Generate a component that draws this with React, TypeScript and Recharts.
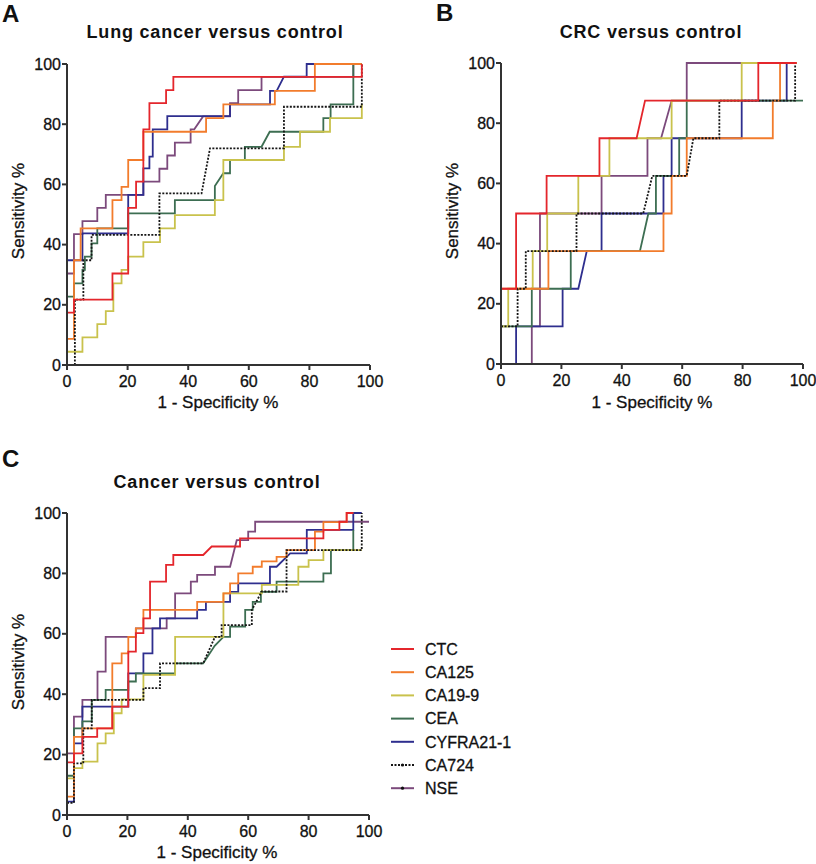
import React from "react";
import { LineChart, Line, XAxis, YAxis } from "recharts";

type Pt = [number, number];

const NAMES = ["CTC", "CA125", "CA19-9", "CEA", "CYFRA21-1", "CA724", "NSE"];
const COLORS = ["#e4262c", "#f27c2c", "#c9c24c", "#3d6e52", "#2e2e8e", "#151515", "#7c4a7c"];
const TICKS = [0, 20, 40, 60, 80, 100];

// A - lung cancer versus control (1 - specificity %, sensitivity %)
const LUNG_CTC: Pt[] = [[0, 17.4], [2.3, 17.4], [2.3, 21.7], [15, 21.7], [15, 30.4], [20.2, 30.4], [20.2, 52.2], [22.8, 52.2], [22.8, 60.9], [25.2, 60.9], [25.2, 78.3], [27.2, 78.3], [27.2, 87], [32.7, 87], [32.7, 91.3], [35.1, 91.3], [35.1, 95.7], [97.3, 95.7], [97.3, 100]];
const LUNG_CA125: Pt[] = [[0, 8.7], [2.3, 8.7], [2.3, 34.8], [4.5, 34.8], [4.5, 45.4], [15, 45.4], [15, 54.8], [18, 54.8], [18, 59.2], [20.2, 59.2], [20.2, 68.1], [25.2, 68.1], [25.2, 77.5], [45.9, 77.5], [45.9, 82], [51.6, 82], [51.6, 86.6], [68.6, 86.6], [68.6, 91.1], [81.8, 91.1], [81.8, 100], [97.3, 100]];
const LUNG_CA199: Pt[] = [[0, 4.4], [5.1, 4.4], [5.1, 9.2], [10, 9.2], [10, 13.6], [12.8, 13.6], [12.8, 17.9], [15.3, 17.9], [15.3, 27.1], [18, 27.1], [18, 31.6], [20.2, 31.6], [20.2, 36], [25.2, 36], [25.2, 40.8], [30.7, 40.8], [30.7, 45.4], [35.6, 45.4], [35.6, 49.8], [48.8, 49.8], [48.8, 54.8], [51.6, 54.8], [51.6, 68.1], [71.6, 68.1], [71.6, 72.5], [76.9, 72.5], [76.9, 77.5], [86.8, 77.5], [86.8, 82], [97.3, 82], [97.3, 86.6]];
const LUNG_CEA: Pt[] = [[0, 22.7], [2.3, 22.7], [2.3, 27.1], [5.1, 27.1], [5.1, 31.6], [5.9, 31.6], [5.9, 36], [8.1, 36], [8.1, 40.4], [10, 40.4], [10, 45.4], [20.2, 45.4], [20.2, 50.4], [35.6, 50.4], [35.6, 54.8], [48.8, 54.8], [48.8, 59.5], [51.6, 63.7], [53.8, 63.7], [53.8, 68.1], [58.7, 68.1], [58.7, 72.5], [64.2, 72.5], [66.9, 77.5], [84.6, 77.5], [84.6, 82], [87, 82], [87, 86.6], [94.5, 86.6], [94.5, 100], [97.3, 100]];
const LUNG_CYFRA: Pt[] = [[0, 34.8], [5.1, 34.8], [5.1, 43.7], [20.2, 43.7], [20.2, 56.5], [25.2, 56.5], [25.2, 65.3], [27.2, 65.3], [27.2, 69.2], [28.3, 69.2], [28.3, 78.3], [33.1, 78.3], [33.1, 82.7], [53.8, 82.7], [53.8, 86.6], [67, 86.6], [67, 91.1], [69.2, 91.1], [71.6, 95.8], [79.1, 95.8], [79.1, 100], [94.5, 100]];
const LUNG_CA724: Pt[] = [[2.6, 0], [2.6, 21.7], [5.4, 21.7], [5.4, 34.8], [8.1, 34.8], [8.1, 43.2], [30.5, 43.2], [30.5, 57], [44.4, 57], [47.2, 72], [71.6, 72], [71.6, 85.8], [97.3, 85.8], [97.3, 100]];
const LUNG_NSE: Pt[] = [[0, 30.4], [2.3, 30.4], [2.3, 43.5], [5.1, 43.5], [5.1, 47.8], [10, 47.8], [10, 52.2], [12.8, 52.2], [12.8, 56.5], [25.2, 56.5], [25.2, 60.9], [30.5, 60.9], [30.5, 65.2], [33.1, 65.2], [33.1, 69.6], [35.6, 69.6], [35.6, 73.9], [40.8, 73.9], [40.8, 78.3], [42, 78.3], [44.9, 82.6], [53.8, 82.6], [53.8, 87], [56.5, 87], [56.5, 91.3], [64.2, 91.3], [64.2, 95.7], [94.5, 95.7], [94.5, 100], [97.3, 100]];

// B - CRC versus control
const CRC_CTC: Pt[] = [[0, 12.5], [0, 25], [5, 25], [5, 50], [15.1, 50], [15.1, 62.5], [32.6, 62.5], [32.6, 75], [44.9, 75], [47.7, 87.5], [85.2, 87.5], [85.2, 100], [97.9, 100]];
const CRC_CA125: Pt[] = [[0, 12.5], [0, 25], [15.7, 25], [15.7, 37.5], [53.8, 37.5], [53.8, 50], [56.5, 50], [56.5, 62.5], [61.5, 62.5], [61.5, 75], [90, 75], [90, 87.5], [92.4, 87.5], [92.4, 100], [97.9, 100]];
const CRC_CA199: Pt[] = [[0, 12.5], [2.4, 12.5], [2.4, 25], [10.5, 25], [10.5, 37.5], [15.3, 37.5], [15.3, 50], [25.6, 50], [25.6, 62.5], [35.9, 62.5], [35.9, 75], [56.5, 75], [56.5, 87.5], [79.7, 87.5], [79.7, 100], [97.9, 100]];
const CRC_CEA: Pt[] = [[0, 12.5], [10.2, 12.5], [10.2, 25], [23.1, 25], [23.1, 37.5], [46, 37.5], [48.8, 50], [51.3, 50], [51.3, 62.5], [59, 62.5], [59, 75], [61.5, 75], [61.5, 87.5], [100, 87.5]];
const CRC_CYFRA: Pt[] = [[5, 0], [5, 12.5], [20.4, 12.5], [20.4, 25], [25.6, 25], [28.4, 37.5], [33.3, 37.5], [33.3, 50], [53.8, 50], [53.8, 62.5], [56.5, 62.5], [56.5, 75], [79.7, 75], [79.7, 87.5], [94.6, 87.5], [94.6, 100], [97.9, 100]];
const CRC_CA724: Pt[] = [[0, 12.5], [5.5, 12.5], [5.5, 25], [8.2, 25], [8.2, 37.5], [25, 37.5], [25, 50], [47.1, 50], [50.1, 62.5], [61.5, 62.5], [63.7, 75], [72.3, 75], [72.3, 87.5], [97.4, 87.5], [97.4, 100]];
const CRC_NSE: Pt[] = [[10.2, 0], [10.2, 12.5], [12.9, 12.5], [12.9, 50], [33.3, 50], [33.3, 62.5], [48.5, 62.5], [48.5, 75], [53, 75], [56.5, 87.5], [61.5, 87.5], [61.5, 100], [97.9, 100]];

// C - cancer versus control
const ALL_CTC: Pt[] = [[0, 17.4], [2.3, 17.4], [2.3, 20.4], [5.1, 20.4], [5.1, 25.9], [10, 25.9], [10, 28.7], [15, 28.7], [15, 35.9], [20.3, 35.9], [20.3, 54.1], [22.8, 54.1], [22.8, 60.2], [25.3, 60.2], [25.3, 65.1], [27.5, 65.1], [27.5, 77.3], [32.8, 77.3], [32.8, 82.8], [35.2, 82.8], [35.2, 86.1], [45.1, 86.1], [47.9, 88.9], [57.3, 88.9], [57.3, 91.6], [84.9, 91.6], [84.9, 94.4], [90.2, 94.4], [90.2, 97.1], [92.6, 97.1], [92.6, 100], [94.8, 100]];
const ALL_CA125: Pt[] = [[0, 6.1], [2.3, 6.1], [2.3, 25.9], [5.1, 25.9], [5.1, 28.7], [15, 28.7], [15, 50.2], [18.1, 50.2], [18.1, 53.5], [20.3, 53.5], [20.3, 59], [22.8, 59], [22.8, 61.8], [25.3, 61.8], [25.3, 67.9], [43.1, 67.9], [43.1, 70.6], [51.8, 70.6], [51.8, 73.4], [54, 73.4], [54, 76.7], [56.7, 76.7], [56.7, 80], [61.5, 80], [61.5, 82.2], [64.5, 82.2], [64.5, 84], [69.4, 84], [69.4, 85.5], [72.7, 85.5], [72.7, 87.7], [82.1, 87.7], [82.1, 93.8], [84.9, 93.8], [84.9, 97], [92.6, 97], [92.6, 100], [94.8, 100]];
const ALL_CA199: Pt[] = [[0, 12.1], [2.3, 12.1], [2.3, 15.5], [5.1, 15.5], [5.1, 17.7], [10.1, 17.7], [10.1, 23.7], [12.8, 23.7], [12.8, 27], [15.5, 27], [15.5, 33.7], [18.1, 33.7], [18.1, 38.3], [25.3, 38.3], [25.3, 46.4], [35.8, 46.4], [35.8, 59], [51.8, 59], [51.8, 73.4], [64.5, 73.4], [64.5, 76.2], [76.6, 76.2], [76.6, 82.2], [80, 82.2], [80, 84.4], [84.9, 84.4], [84.9, 87.7], [97.6, 87.7]];
const ALL_CEA: Pt[] = [[0, 13], [2.3, 13], [2.3, 28.7], [5.1, 28.7], [5.1, 31], [8.2, 31], [8.2, 38.1], [12.8, 38.1], [12.8, 41.4], [20.3, 41.4], [20.3, 44.2], [22.8, 44.2], [22.8, 46.9], [35.8, 46.9], [35.8, 50.2], [45.1, 50.2], [48.9, 56], [51.8, 59], [54, 59], [54, 62.4], [59, 62.4], [59, 67.9], [61.5, 67.9], [61.5, 70.6], [64.2, 70.6], [64.2, 73.9], [69.4, 73.9], [69.4, 77.3], [84.9, 77.3], [84.9, 80], [87.4, 80], [87.4, 87.7], [94.8, 87.7], [94.8, 94.4]];
const ALL_CYFRA: Pt[] = [[0, 4.4], [2.3, 4.4], [2.3, 23.7], [5.1, 23.7], [5.1, 35.9], [20.3, 35.9], [20.3, 46.9], [25.3, 46.9], [25.3, 53.5], [28.3, 53.5], [28.3, 61.8], [30.8, 61.8], [30.8, 65.1], [43.1, 65.1], [43.1, 67.9], [46, 67.9], [46, 70.6], [54, 70.6], [54, 73.9], [56.7, 73.9], [56.7, 76.7], [67.2, 76.7], [67.2, 82.2], [69.4, 82.2], [73.9, 86.6], [79.4, 86.6], [79.4, 94.4], [94.8, 94.4], [94.8, 100], [97.6, 100]];
const ALL_CA724: Pt[] = [[0, 4], [2.3, 4], [2.3, 17.1], [5.4, 17.1], [5.4, 28.7], [8.2, 28.7], [8.2, 38.1], [25.3, 38.1], [25.3, 42], [30.8, 42], [30.8, 50.2], [45.1, 50.2], [49, 59], [51.2, 59], [51.2, 62.9], [61.2, 62.9], [61.2, 67.9], [64.5, 74], [72.7, 74], [72.7, 87.7], [97.6, 87.7], [97.6, 100]];
const ALL_NSE: Pt[] = [[0, 20.4], [2.3, 20.4], [2.3, 32.6], [5.1, 32.6], [5.1, 38.1], [10.1, 38.1], [10.1, 47.5], [12.8, 47.5], [12.8, 59], [22.8, 59], [22.8, 61.8], [33, 61.8], [33, 65.1], [35.8, 65.1], [35.8, 73.4], [41, 73.4], [41, 77.3], [43.1, 77.3], [43.1, 79.5], [49, 79.5], [49, 82.2], [54, 82.2], [56.2, 91], [60, 91], [60, 93.8], [62.3, 93.8], [62.3, 97.1], [100, 97.1]];

const LUNG = [LUNG_CTC, LUNG_CA125, LUNG_CA199, LUNG_CEA, LUNG_CYFRA, LUNG_CA724, LUNG_NSE];
const CRC = [CRC_CTC, CRC_CA125, CRC_CA199, CRC_CEA, CRC_CYFRA, CRC_CA724, CRC_NSE];
const ALL = [ALL_CTC, ALL_CA125, ALL_CA199, ALL_CEA, ALL_CYFRA, ALL_CA724, ALL_NSE];

// NSE at the bottom, red and the dotted line on top
const DRAW_ORDER = [6, 4, 3, 2, 1, 5, 0];

const FONT = "'Liberation Sans', Arial, sans-serif";
const INK = "#111";
const axisStyle = { stroke: "#333", strokeWidth: 2 };
const tickStyle = { fill: INK, fontSize: 16, fontFamily: FONT, stroke: INK, strokeWidth: 0.3 };

type Box = { x: number; y: number; w: number; h: number };

const RocPanel = ({ curves, plot }: { curves: Pt[][]; plot: Box }) => (
  <div style={{ position: "absolute", left: plot.x - 60, top: plot.y - 20 }}>
    <LineChart width={plot.w + 80} height={plot.h + 60} margin={{ top: 20, right: 20, bottom: 10, left: 0 }}>
      <XAxis type="number" dataKey="x" domain={[0, 100]} ticks={TICKS} interval={0} height={30}
        tickSize={5} tickMargin={6} axisLine={axisStyle} tickLine={axisStyle} tick={tickStyle} />
      <YAxis type="number" domain={[0, 100]} ticks={TICKS} interval={0} width={60}
        tickSize={5} tickMargin={1} axisLine={axisStyle} tickLine={axisStyle} tick={tickStyle} />
      {DRAW_ORDER.map((i) => (
        <Line key={NAMES[i]} data={curves[i].map(([x, y]) => ({ x, y }))} dataKey="y" type="linear"
          stroke={COLORS[i]} strokeWidth={1.8} strokeDasharray={NAMES[i] === "CA724" ? "2 1.5" : undefined}
          dot={false} activeDot={false} isAnimationActive={false} />
      ))}
    </LineChart>
  </div>
);

const App: React.FC = () => (
  <div style={{ position: "absolute", left: 0, top: 0, width: 816, height: 864, background: "#fff", fontFamily: FONT }}>
    <RocPanel curves={LUNG} plot={{ x: 67, y: 64, w: 303, h: 301 }} />
    <RocPanel curves={CRC} plot={{ x: 501, y: 63, w: 302, h: 301 }} />
    <RocPanel curves={ALL} plot={{ x: 67, y: 513, w: 302, h: 302 }} />
    <svg width={816} height={864} style={{ position: "absolute", left: 0, top: 0, pointerEvents: "none" }} fontFamily={FONT} fill={INK}>
      <text x={2} y={22} fontSize={24} fontWeight="bold">A</text>
      <text x={436} y={21} fontSize={24} fontWeight="bold">B</text>
      <text x={2} y={467} fontSize={24} fontWeight="bold">C</text>

      <text x={215} y={38} textAnchor="middle" fontSize={18} fontWeight="bold" letterSpacing={0.8}>Lung cancer versus control</text>
      <text x={651} y={37.5} textAnchor="middle" fontSize={18} fontWeight="bold" letterSpacing={0.8}>CRC versus control</text>
      <text x={217} y={487.5} textAnchor="middle" fontSize={18} fontWeight="bold" letterSpacing={0.8}>Cancer versus control</text>

      <g fontSize={17} stroke={INK} strokeWidth={0.3}>
        <text transform="translate(24,211) rotate(-90)" textAnchor="middle">Sensitivity %</text>
        <text transform="translate(458,211) rotate(-90)" textAnchor="middle">Sensitivity %</text>
        <text transform="translate(24,662) rotate(-90)" textAnchor="middle">Sensitivity %</text>

        <text x={218} y={408} textAnchor="middle">1 - Specificity %</text>
        <text x={652} y={408} textAnchor="middle">1 - Specificity %</text>
        <text x={217} y={858} textAnchor="middle">1 - Specificity %</text>
      </g>

      {NAMES.map((name, i) => {
        const cy = 649 + i * 23.2;
        return (
          <g key={name}>
            <line x1={391} x2={414} y1={cy} y2={cy} stroke={COLORS[i]} strokeWidth={2}
              strokeDasharray={name === "CA724" ? "2 1.5" : undefined} />
            {(name === "CA724" || name === "NSE") && <circle cx={402.5} cy={cy} r={1.6} fill={INK} />}
            <text x={425} y={cy + 5.8} fontSize={16} stroke={INK} strokeWidth={0.3}>{name}</text>
          </g>
        );
      })}
    </svg>
  </div>
);

export default App;
